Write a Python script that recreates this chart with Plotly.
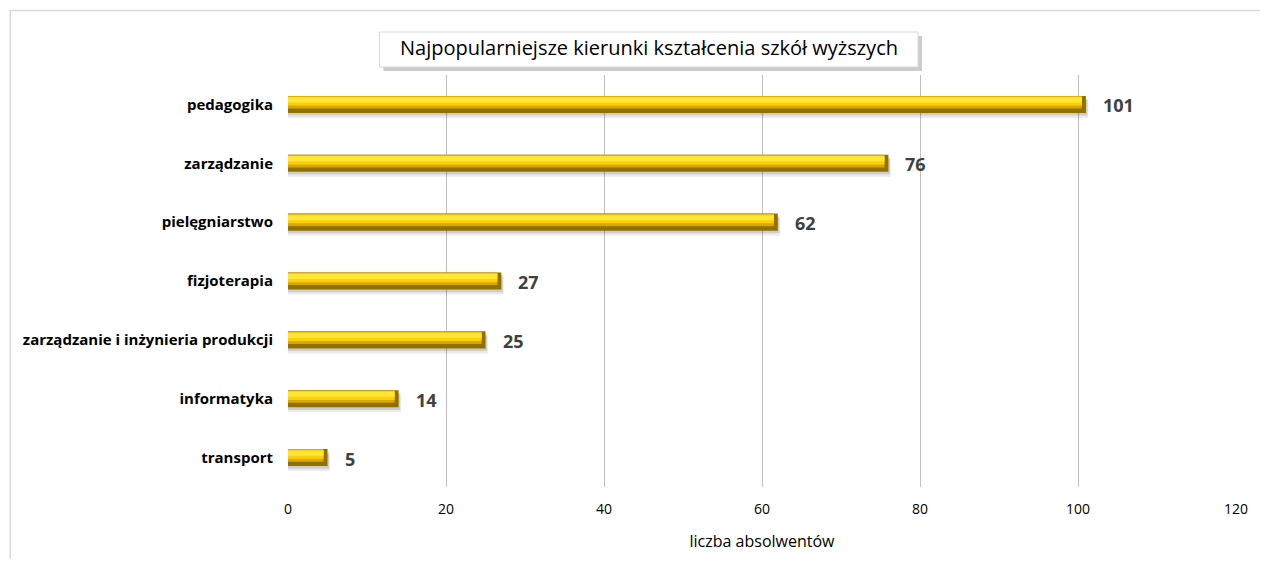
import plotly.graph_objects as go

categories = ["pedagogika", "zarządzanie", "pielęgniarstwo", "fizjoterapia",
              "zarządzanie i inżynieria produkcji", "informatyka", "transport"]
values = [101, 76, 62, 27, 25, 14, 5]
x_ticks = [0, 20, 40, 60, 80, 100, 120]
title_text = "Najpopularniejsze kierunki kształcenia szkół wyższych"
x_title = "liczba absolwentów"

FONT = "'Open Sans', sans-serif"

# figure is drawn inside the page body (8px default margin)
W, H = 1252, 551
L, T, PW, PH = 280, 67, 954, 412
R, B = W - L - PW, H - T - PH


def px_x(page_x):
    return (page_x - 8 - L) / PW


def px_y(page_y):
    return (T + PH - (page_y - 8)) / PH


fig = go.Figure()

inner = [v - 0.5 for v in values]


def bar_layer(xs, width, offset, color):
    fig.add_trace(go.Bar(
        x=xs, y=categories, orientation="h", width=width, offset=offset,
        marker=dict(color=color, line=dict(width=0)),
        hoverinfo="skip", showlegend=False,
    ))


# soft shadow (below the bar)
bar_layer([v + 0.3 for v in values], 0.30, -0.07, "rgba(0,0,0,0.08)")
bar_layer([v + 0.2 for v in values], 0.29, -0.10, "rgba(0,0,0,0.12)")
# dark base / end cap
bar_layer(values, 0.29, -0.145, "#8F7000")
# gold body
bar_layer(inner, 0.215, -0.145, "#D6A800")
# yellow
bar_layer(inner, 0.15, -0.13, "#FFCF00")
# bright band
bar_layer(inner, 0.085, -0.118, "#FFE73A")

for c, v in zip(categories, values):
    fig.add_annotation(x=v, y=c, text=f"<b>{v}</b>", showarrow=False,
                       xanchor="left", xshift=15, yshift=-1,
                       font=dict(family=FONT, size=18, color="#404040"))

# title box shadow
fig.add_shape(type="rect", xref="paper", yref="paper",
              x0=px_x(384), x1=px_x(926), y0=px_y(71), y1=px_y(36),
              line=dict(width=0), fillcolor="rgba(0,0,0,0.2)", layer="below")
# title box
fig.add_shape(type="rect", xref="paper", yref="paper",
              x0=px_x(380), x1=px_x(922), y0=px_y(67), y1=px_y(32),
              line=dict(color="#D9D9D9", width=1), fillcolor="white", layer="below")
fig.add_annotation(xref="paper", yref="paper", x=px_x(651), y=px_y(48),
                   text=title_text, showarrow=False, xanchor="center", yanchor="middle",
                   font=dict(family=FONT, size=20, color="#000000"))

# outer chart border
fig.add_shape(type="rect", xref="paper", yref="paper",
              x0=px_x(8.5), x1=1.3, y0=px_y(10.5), y1=-0.5,
              line=dict(color="#D9D9D9", width=1.5), fillcolor="rgba(0,0,0,0)", layer="below")

fig.update_layout(
    width=W, height=H,
    margin=dict(l=L, r=R, t=T, b=B, pad=0),
    paper_bgcolor="white", plot_bgcolor="white",
    barmode="overlay",
    showlegend=False,
    font=dict(family=FONT, color="#000000"),
    xaxis=dict(range=[0, 120], tickvals=x_ticks, showgrid=True, gridcolor="#BFBFBF",
               gridwidth=1, zeroline=False, showline=False, ticks="",
               tickfont=dict(size=14, color="#000000"), ticklabelstandoff=12,
               title=dict(text=x_title, font=dict(size=16, color="#000000"), standoff=18)),
    yaxis=dict(categoryorder="array", categoryarray=categories, autorange="reversed",
               showgrid=False, zeroline=False, showline=False, ticks="",
               tickfont=dict(size=15, color="#000000", weight="bold"),
               ticklabelstandoff=14),
)

fig.write_html("out.html")
